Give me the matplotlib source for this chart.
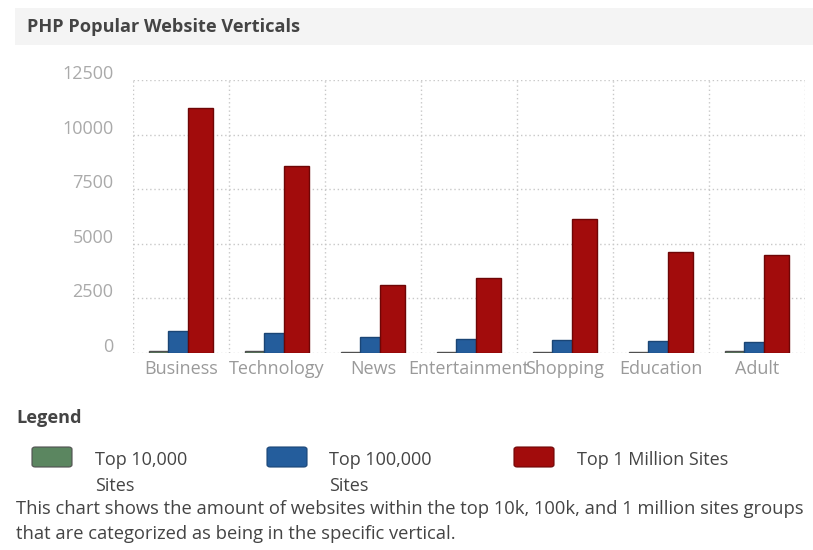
import matplotlib
matplotlib.use("Agg")
import matplotlib.pyplot as plt
import matplotlib.transforms as mtransforms
from matplotlib.patches import FancyBboxPatch, Rectangle
import numpy as np

plt.rcParams['font.family'] = ['Open Sans', 'DejaVu Sans']

title = "PHP Popular Website Verticals"
categories = ["Business", "Technology", "News", "Entertainment", "Shopping", "Education", "Adult"]
top10k = [110, 80, 60, 50, 50, 40, 70]
top100k = [1005, 915, 745, 625, 595, 535, 505]
top1m = [11200, 8560, 3110, 3440, 6150, 4630, 4480]
series_labels = ["Top 10,000\nSites", "Top 100,000\nSites", "Top 1 Million Sites"]
yticks = [0, 2500, 5000, 7500, 10000, 12500]
caption = ("This chart shows the amount of websites within the top 10k, 100k, and 1 million sites groups\n"
           "that are categorized as being in the specific vertical.")

colors = ["#5b8660", "#245d9c", "#a20c0c"]
edges = ["#505050", "#1a4575", "#6e0606"]

W, H = 813, 550
fig = plt.figure(figsize=(W / 100, H / 100), dpi=100)
fig.patch.set_facecolor("white")

def fx(px):
    return px / W

def fy(py):
    return 1 - py / H

# title banner
fig.patches.append(Rectangle((fx(15), fy(45)), fx(813) - fx(15), fy(8) - fy(45),
                             transform=fig.transFigure, facecolor="#f4f4f4", edgecolor="none", zorder=0))
fig.text(fx(27), fy(27), title, fontsize=13.1, fontweight="bold", color="#444444", va="center", ha="left")

ax = fig.add_axes([fx(133), fy(353), fx(805) - fx(133), fy(80) - fy(353)])
x = np.arange(len(categories))
wg, wb, wr = 0.203, 0.203, 0.266
ax.bar(x - 0.2345, top10k, width=wg, color=colors[0], edgecolor=edges[0], linewidth=1, zorder=3)
ax.bar(x - 0.0315, top100k, width=wb, color=colors[1], edgecolor=edges[1], linewidth=1, zorder=3)
ax.bar(x + 0.203, top1m, width=wr, color=colors[2], edgecolor=edges[2], linewidth=1, zorder=3)

ax.set_xlim(-0.5, len(categories) - 0.5)
ax.set_ylim(0, 12500)
ax.set_yticks(yticks)
ax.set_yticklabels([str(v) for v in yticks])
ax.set_xticks(x)
ax.set_xticklabels(categories)
ax.set_xticks(np.arange(len(categories) + 1) - 0.5, minor=True)
ax.tick_params(axis="both", which="both", length=0)
ax.tick_params(axis="y", labelsize=13, labelcolor="#aaaaaa", pad=14)
ax.tick_params(axis="x", labelsize=13, labelcolor="#9a9a9a", pad=5)
ax.grid(axis="y", which="major", linestyle=(0, (1, 2)), color="#c8c8c8", linewidth=1, zorder=0)
ax.grid(axis="x", which="minor", linestyle=(0, (1, 2)), color="#c8c8c8", linewidth=1, zorder=0)
ax.grid(axis="x", which="major", visible=False)
for s in ax.spines.values():
    s.set_visible(False)
ax.set_facecolor("none")
off = mtransforms.ScaledTranslation(0, 8 / 100, fig.dpi_scale_trans)
for lab in ax.get_yticklabels():
    lab.set_transform(lab.get_transform() + off)

# legend
fig.text(fx(16), fy(418), "Legend", fontsize=13.1, fontweight="bold", color="#444444", va="center", ha="left")
patch_x = [32, 267, 514]
text_x = [95, 329, 577]
for i in range(3):
    p = FancyBboxPatch((fx(patch_x[i]), fy(467)), fx(40), fy(447) - fy(467),
                       boxstyle="round,pad=0,rounding_size=0.004", transform=fig.transFigure,
                       facecolor=colors[i], edgecolor=edges[i], linewidth=0.8)
    fig.patches.append(p)
    fig.text(fx(text_x[i]), fy(451), series_labels[i], fontsize=13, color="#444444",
             va="top", ha="left", linespacing=1.55)

fig.text(fx(16), fy(500), caption, fontsize=13.25, color="#444444", va="top", ha="left", linespacing=1.5)

fig.savefig("out.png", dpi=100)
